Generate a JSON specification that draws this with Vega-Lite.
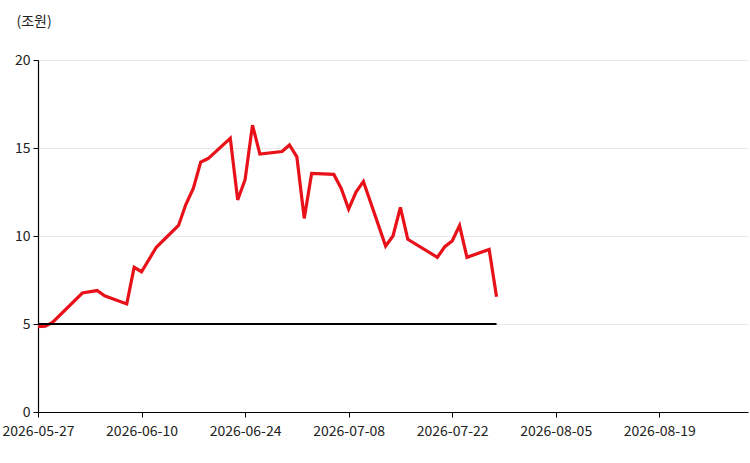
{
  "$schema": "https://vega.github.io/schema/vega-lite/v6.json",
  "width": 710,
  "height": 352,
  "autosize": {"type": "none"},
  "padding": {"left": 38, "top": 60, "right": 2, "bottom": 51},
  "background": "white",
  "config": {
    "view": {"stroke": null},
    "font": "Noto Sans CJK KR",
    "axis": {
      "labelFont": "Noto Sans CJK KR",
      "labelFontSize": 14,
      "labelColor": "#222",
      "domainColor": "black",
      "domainWidth": 1.2,
      "tickColor": "black",
      "tickSize": 5,
      "gridColor": "#e8e8e8",
      "gridWidth": 1
    }
  },
  "datasets": {
    "loan": [
      {"date": "2026-05-27", "value": 4.85, "series": "잔액"},
      {"date": "2026-05-28", "value": 4.87, "series": "잔액"},
      {"date": "2026-05-29", "value": 5.1, "series": "잔액"},
      {"date": "2026-06-02", "value": 6.76, "series": "잔액"},
      {"date": "2026-06-04", "value": 6.9, "series": "잔액"},
      {"date": "2026-06-05", "value": 6.6, "series": "잔액"},
      {"date": "2026-06-08", "value": 6.14, "series": "잔액"},
      {"date": "2026-06-09", "value": 8.22, "series": "잔액"},
      {"date": "2026-06-10", "value": 7.97, "series": "잔액"},
      {"date": "2026-06-12", "value": 9.36, "series": "잔액"},
      {"date": "2026-06-15", "value": 10.6, "series": "잔액"},
      {"date": "2026-06-16", "value": 11.8, "series": "잔액"},
      {"date": "2026-06-17", "value": 12.7, "series": "잔액"},
      {"date": "2026-06-18", "value": 14.2, "series": "잔액"},
      {"date": "2026-06-19", "value": 14.4, "series": "잔액"},
      {"date": "2026-06-22", "value": 15.55, "series": "잔액"},
      {"date": "2026-06-23", "value": 12.05, "series": "잔액"},
      {"date": "2026-06-24", "value": 13.2, "series": "잔액"},
      {"date": "2026-06-25", "value": 16.3, "series": "잔액"},
      {"date": "2026-06-26", "value": 14.66, "series": "잔액"},
      {"date": "2026-06-29", "value": 14.8, "series": "잔액"},
      {"date": "2026-06-30", "value": 15.17, "series": "잔액"},
      {"date": "2026-07-01", "value": 14.5, "series": "잔액"},
      {"date": "2026-07-02", "value": 11.0, "series": "잔액"},
      {"date": "2026-07-03", "value": 13.56, "series": "잔액"},
      {"date": "2026-07-06", "value": 13.5, "series": "잔액"},
      {"date": "2026-07-07", "value": 12.7, "series": "잔액"},
      {"date": "2026-07-08", "value": 11.53, "series": "잔액"},
      {"date": "2026-07-09", "value": 12.5, "series": "잔액"},
      {"date": "2026-07-10", "value": 13.1, "series": "잔액"},
      {"date": "2026-07-13", "value": 9.43, "series": "잔액"},
      {"date": "2026-07-14", "value": 10.0, "series": "잔액"},
      {"date": "2026-07-15", "value": 11.63, "series": "잔액"},
      {"date": "2026-07-16", "value": 9.81, "series": "잔액"},
      {"date": "2026-07-20", "value": 8.79, "series": "잔액"},
      {"date": "2026-07-21", "value": 9.39, "series": "잔액"},
      {"date": "2026-07-22", "value": 9.72, "series": "잔액"},
      {"date": "2026-07-23", "value": 10.59, "series": "잔액"},
      {"date": "2026-07-24", "value": 8.79, "series": "잔액"},
      {"date": "2026-07-27", "value": 9.24, "series": "잔액"},
      {"date": "2026-07-28", "value": 6.55, "series": "잔액"},
      {"date": "2026-05-27", "value": 5, "series": "기준"},
      {"date": "2026-07-28", "value": 5, "series": "기준"}
    ]
  },
  "data": {"name": "loan"},
  "mark": {"type": "line", "strokeJoin": "miter"},
  "encoding": {
    "x": {
      "field": "date",
      "type": "temporal",
      "scale": {
        "type": "utc",
        "domain": [
          {"year": 2026, "month": 5, "date": 27, "utc": true},
          {"year": 2026, "month": 8, "date": 31, "utc": true}
        ]
      },
      "axis": {
        "title": null,
        "grid": false,
        "labelExpr": "utcFormat(datum.value, '%Y-%m-%d')",
        "labelPadding": 7,
        "labelFlush": false,
        "labelOverlap": false,
        "values": [
          {"year": 2026, "month": 5, "date": 27, "utc": true},
          {"year": 2026, "month": 6, "date": 10, "utc": true},
          {"year": 2026, "month": 6, "date": 24, "utc": true},
          {"year": 2026, "month": 7, "date": 8, "utc": true},
          {"year": 2026, "month": 7, "date": 22, "utc": true},
          {"year": 2026, "month": 8, "date": 5, "utc": true},
          {"year": 2026, "month": 8, "date": 19, "utc": true}
        ]
      }
    },
    "y": {
      "field": "value",
      "type": "quantitative",
      "scale": {"domain": [0, 20]},
      "axis": {
        "values": [0, 5, 10, 15, 20],
        "title": "(조원)",
        "titleAngle": 0,
        "titleFont": "Noto Sans CJK KR",
        "titleFontSize": 14,
        "titleFontWeight": "normal",
        "titleColor": "#222",
        "titleAlign": "left",
        "titleBaseline": "middle",
        "titleX": -22,
        "titleY": -39,
        "labelPadding": 3
      }
    },
    "color": {
      "field": "series",
      "type": "nominal",
      "scale": {"domain": ["잔액", "기준"], "range": ["#e8111a", "#000000"]},
      "legend": null
    },
    "strokeWidth": {
      "field": "series",
      "type": "nominal",
      "scale": {"domain": ["잔액", "기준"], "range": [3.2, 2]},
      "legend": null
    }
  }
}
